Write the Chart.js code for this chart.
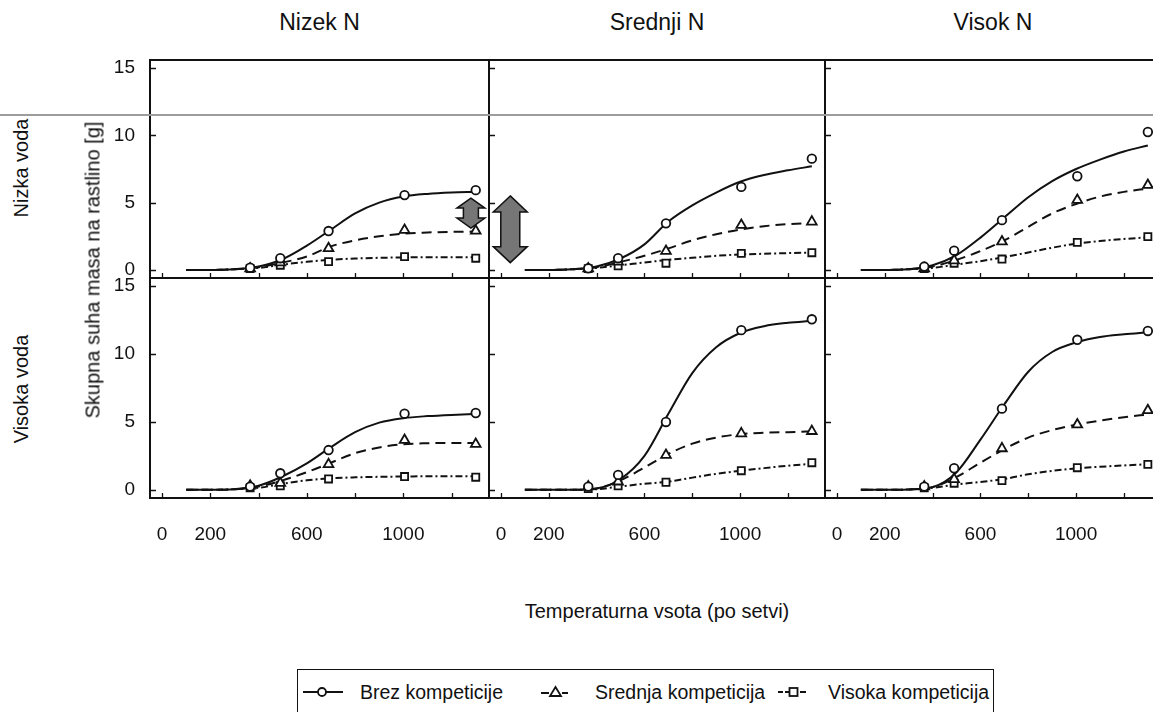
<!DOCTYPE html>
<html>
<head>
<meta charset="utf-8">
<script src="https://cdn.jsdelivr.net/npm/chart.js@4.4.1/dist/chart.umd.min.js"></script>
<style>
  body { margin: 0; background: #fff; }
  #wrap { position: relative; width: 1153px; height: 712px; overflow: hidden; background: #fff;
          font-family: "Liberation Sans", Arial, sans-serif; color: #111; }
  canvas { position: absolute; }
  .lbl { position: absolute; white-space: nowrap; font-size: 20px; }
  .title { font-size: 23px; transform: translateX(-50%); }
  .rot { transform: translate(-50%, -50%) rotate(-90deg); }
  #scanline { position: absolute; left: 0; top: 114px; width: 1153px; height: 2px; background: #9c9c9c; z-index: 5; }
  #legend { position: absolute; left: 297px; top: 669px; width: 695px; height: 60px; border: 1.5px solid #111; }
  #legend .item { position: absolute; top: 11px; font-size: 19.5px; }
  #legend svg { position: absolute; top: 15px; }
</style>
</head>
<body>
<div id="wrap">
  <div id="scanline"></div>
  <div id="legend"></div>
</div>
<script>
// x positions of the measured points and of the fitted curves (temperature sum)
const sampleX = [365, 490, 690, 1005, 1300];
const fitX = [100, 200, 300, 400, 500, 600, 700, 800, 900, 1000, 1100, 1200, 1300];

const colTitles = ['Nizek N', 'Srednji N', 'Visok N'];
const rowTitles = ['Nizka voda', 'Visoka voda'];
const seriesNames = ['Brez kompeticije', 'Srednja kompeticija', 'Visoka kompeticija'];
const xTicks = [0, 200, 400, 600, 800, 1000, 1200];
const xTickLabels = [0, 200, 600, 1000];
const yTicks = [0, 5, 10, 15];

// Nizek N / Nizka voda
const nl_brez = [0.17, 0.87, 2.89, 5.56, 5.93];
const nl_sred = [0.1, 0.55, 1.6, 2.96, 2.9];
const nl_vis = [0.1, 0.35, 0.62, 0.99, 0.87];
const nl_brezFit = [0, 0, 0.05, 0.25, 0.8, 1.8, 3.0, 4.2, 5.0, 5.45, 5.65, 5.75, 5.8];
const nl_sredFit = [0, 0, 0.05, 0.2, 0.55, 1.0, 1.75, 2.2, 2.5, 2.7, 2.78, 2.83, 2.85];
const nl_visFit = [0, 0, 0.05, 0.15, 0.4, 0.6, 0.75, 0.85, 0.9, 0.93, 0.94, 0.95, 0.95];

// Srednji N / Nizka voda
const sl_brez = [0.12, 0.87, 3.46, 6.17, 8.27];
const sl_sred = [0.1, 0.6, 1.4, 3.33, 3.58];
const sl_vis = [0.1, 0.3, 0.5, 1.23, 1.28];
const sl_brezFit = [0, 0, 0.05, 0.25, 0.85, 1.9, 3.6, 4.8, 5.75, 6.55, 7.05, 7.4, 7.7];
const sl_sredFit = [0, 0, 0.05, 0.2, 0.6, 1.05, 1.6, 2.2, 2.65, 3.0, 3.25, 3.4, 3.5];
const sl_visFit = [0, 0, 0.05, 0.15, 0.35, 0.55, 0.75, 0.9, 1.05, 1.15, 1.2, 1.25, 1.28];

// Visok N / Nizka voda
const vl_brez = [0.25, 1.43, 3.7, 6.96, 10.25];
const vl_sred = [0.1, 0.7, 2.1, 5.19, 6.3];
const vl_vis = [0.1, 0.5, 0.81, 2.05, 2.47];
const vl_brezFit = [0, 0, 0.05, 0.35, 1.1, 2.4, 3.9, 5.4, 6.6, 7.5, 8.2, 8.8, 9.25];
const vl_sredFit = [0, 0, 0.05, 0.25, 0.75, 1.4, 2.2, 3.2, 4.2, 4.9, 5.45, 5.8, 6.05];
const vl_visFit = [0, 0, 0.05, 0.15, 0.4, 0.65, 0.95, 1.3, 1.65, 1.95, 2.15, 2.3, 2.42];

// Nizek N / Visoka voda
const nh_brez = [0.24, 1.22, 2.93, 5.61, 5.66];
const nh_sred = [0.3, 0.5, 1.88, 3.66, 3.37];
const nh_vis = [0.15, 0.3, 0.8, 0.98, 0.93];
const nh_brezFit = [0, 0, 0.05, 0.3, 1.0, 1.95, 3.15, 4.25, 4.95, 5.28, 5.43, 5.52, 5.58];
const nh_sredFit = [0, 0, 0.05, 0.25, 0.7, 1.3, 2.0, 2.7, 3.12, 3.36, 3.43, 3.45, 3.45];
const nh_visFit = [0, 0, 0.05, 0.15, 0.45, 0.7, 0.85, 0.92, 0.96, 0.98, 1.0, 1.0, 1.0];

// Srednji N / Visoka voda
const sh_brez = [0.24, 1.1, 5.0, 11.76, 12.56];
const sh_sred = [0.24, 0.6, 2.56, 4.15, 4.32];
const sh_vis = [0.1, 0.3, 0.56, 1.41, 2.0];
const sh_brezFit = [0, 0, 0, 0.1, 0.8, 2.5, 5.6, 8.6, 10.5, 11.55, 12.05, 12.3, 12.45];
const sh_sredFit = [0, 0, 0, 0.1, 0.7, 1.65, 2.65, 3.4, 3.85, 4.1, 4.2, 4.25, 4.3];
const sh_visFit = [0, 0, 0, 0.05, 0.25, 0.45, 0.6, 0.9, 1.18, 1.4, 1.6, 1.78, 1.92];

// Visok N / Visoka voda
const vh_brez = [0.24, 1.59, 5.98, 11.05, 11.7];
const vh_sred = [0.24, 0.78, 3.05, 4.8, 5.85];
const vh_vis = [0.15, 0.49, 0.68, 1.63, 1.88];
const vh_brezFit = [0, 0, 0.03, 0.2, 1.3, 3.7, 6.3, 8.7, 10.15, 10.85, 11.25, 11.45, 11.6];
const vh_sredFit = [0, 0, 0.03, 0.2, 0.95, 2.0, 3.0, 3.85, 4.4, 4.8, 5.1, 5.35, 5.55];
const vh_visFit = [0, 0, 0.03, 0.15, 0.4, 0.58, 0.8, 1.15, 1.4, 1.58, 1.7, 1.8, 1.88];

// layout of the plot areas
const colLeft = [150, 489, 825];
const colWidth = [339, 336, 336];
const rowTop = [60, 278];
const rowHeight = [218, 220];
const padL = 70, padT = 12, padR = 12, padB = 50;

const markers = ['circle', 'triangle', 'rect'];
const markerSize = [4.3, 5.6, 5];
const dashes = [[], [10, 6], [7, 3, 2, 3]];

const panels = [
  { col: 0, row: 0, pts: [nl_brez, nl_sred, nl_vis], fit: [nl_brezFit, nl_sredFit, nl_visFit],
    arrow: { x: 1280, y0: 5.34, y1: 3.11, head: 28, shaft: 15, headH: 10 } },
  { col: 1, row: 0, pts: [sl_brez, sl_sred, sl_vis], fit: [sl_brezFit, sl_sredFit, sl_visFit],
    arrow: { x: 39, y0: 5.5, y1: 0.54, head: 34, shaft: 19, headH: 16 } },
  { col: 2, row: 0, pts: [vl_brez, vl_sred, vl_vis], fit: [vl_brezFit, vl_sredFit, vl_visFit] },
  { col: 0, row: 1, pts: [nh_brez, nh_sred, nh_vis], fit: [nh_brezFit, nh_sredFit, nh_visFit] },
  { col: 1, row: 1, pts: [sh_brez, sh_sred, sh_vis], fit: [sh_brezFit, sh_sredFit, sh_visFit] },
  { col: 2, row: 1, pts: [vh_brez, vh_sred, vh_vis], fit: [vh_brezFit, vh_sredFit, vh_visFit] }
];

const wrap = document.getElementById('wrap');
const FONT = '"Liberation Sans", Arial, sans-serif';

// frame, inward tick marks and the grey arrows
const panelDeco = {
  id: 'panelDeco',
  afterDatasetsDraw(chart) {
    const arrow = chart.options.plugins.panelDeco.arrow;
    if (!arrow) return;
    const { ctx, scales: { x, y } } = chart;
    const cx = x.getPixelForValue(arrow.x);
    const top = y.getPixelForValue(arrow.y0);
    const bot = y.getPixelForValue(arrow.y1);
    const hw = arrow.head / 2, sw = arrow.shaft / 2, hh = arrow.headH;
    ctx.save();
    ctx.beginPath();
    ctx.moveTo(cx, top);
    ctx.lineTo(cx + hw, top + hh);
    ctx.lineTo(cx + sw, top + hh);
    ctx.lineTo(cx + sw, bot - hh);
    ctx.lineTo(cx + hw, bot - hh);
    ctx.lineTo(cx, bot);
    ctx.lineTo(cx - hw, bot - hh);
    ctx.lineTo(cx - sw, bot - hh);
    ctx.lineTo(cx - sw, top + hh);
    ctx.lineTo(cx - hw, top + hh);
    ctx.closePath();
    ctx.fillStyle = '#767676';
    ctx.fill();
    ctx.strokeStyle = '#111';
    ctx.lineWidth = 1.5;
    ctx.stroke();
    ctx.restore();
  },
  afterDraw(chart) {
    const { ctx, chartArea: a, scales: { x, y } } = chart;
    ctx.save();
    ctx.strokeStyle = '#111';
    ctx.lineWidth = 1.3;
    ctx.beginPath();
    xTicks.forEach(v => {
      const px = Math.round(x.getPixelForValue(v)) + 0.5;
      ctx.moveTo(px, a.bottom);
      ctx.lineTo(px, a.bottom - 5);
    });
    yTicks.forEach(v => {
      const py = Math.round(y.getPixelForValue(v)) + 0.5;
      ctx.moveTo(a.left, py);
      ctx.lineTo(a.left + 6, py);
    });
    ctx.stroke();
    ctx.lineWidth = 2;
    ctx.strokeRect(a.left, a.top, a.right - a.left, a.bottom - a.top);
    ctx.restore();
  }
};

panels.forEach(p => {
  const w = colWidth[p.col] + padL + padR;
  const h = rowHeight[p.row] + padT + padB;
  const cv = document.createElement('canvas');
  cv.width = w; cv.height = h;
  cv.style.left = (colLeft[p.col] - padL) + 'px';
  cv.style.top = (rowTop[p.row] - padT) + 'px';
  wrap.appendChild(cv);

  const datasets = [];
  p.fit.forEach((vals, i) => {
    datasets.push({
      label: seriesNames[i] + ' fit',
      data: fitX.map((xv, k) => ({ x: xv, y: vals[k] })),
      showLine: true,
      borderColor: '#111',
      borderWidth: 2,
      borderDash: dashes[i],
      pointRadius: 0,
      cubicInterpolationMode: 'monotone',
      order: 2
    });
  });
  p.pts.forEach((vals, i) => {
    datasets.push({
      label: seriesNames[i],
      data: sampleX.map((xv, k) => ({ x: xv, y: vals[k] })),
      showLine: false,
      pointStyle: markers[i],
      pointRadius: markerSize[i],
      pointBorderWidth: 1.8,
      pointBorderColor: '#111',
      pointBackgroundColor: '#fff',
      order: 1
    });
  });

  new Chart(cv, {
    type: 'scatter',
    data: { datasets },
    options: {
      responsive: false,
      animation: false,
      devicePixelRatio: 1,
      layout: { padding: { left: 0, top: padT, right: padR, bottom: 0 } },
      plugins: { legend: { display: false }, tooltip: { enabled: false }, panelDeco: { arrow: p.arrow } },
      scales: {
        x: {
          type: 'linear', min: -50, max: 1355,
          grid: { display: false, drawTicks: false },
          border: { display: false },
          afterBuildTicks: s => { s.ticks = xTicks.map(v => ({ value: v })); },
          afterFit: s => { s.height = padB; s.paddingLeft = 0; s.paddingRight = 0; },
          ticks: {
            display: p.row === 1,
            autoSkip: false, maxRotation: 0, padding: 25,
            color: '#111', font: { family: FONT, size: 19 },
            callback: v => xTickLabels.includes(v) ? String(v) : ''
          }
        },
        y: {
          type: 'linear', min: -0.6, max: 15.6,
          grid: { display: false, drawTicks: false },
          border: { display: false },
          afterBuildTicks: s => { s.ticks = yTicks.map(v => ({ value: v })); },
          afterFit: s => { s.width = padL; s.paddingTop = 0; s.paddingBottom = 0; },
          ticks: {
            display: p.col === 0,
            padding: 15,
            color: '#111', font: { family: FONT, size: 19 },
            callback: v => String(v)
          }
        }
      }
    },
    plugins: [panelDeco]
  });
});

// titles and axis labels
function addLabel(text, cls, css) {
  const d = document.createElement('div');
  d.className = 'lbl ' + cls;
  d.textContent = text;
  Object.assign(d.style, css);
  wrap.appendChild(d);
}
colTitles.forEach((t, c) => {
  addLabel(t, 'title', { left: (colLeft[c] + colWidth[c] / 2) + 'px', top: '9px' });
});
addLabel(rowTitles[0], 'rot', { left: '21px', top: '168px' });
addLabel(rowTitles[1], 'rot', { left: '21px', top: '389px' });
addLabel('Skupna suha masa na rastlino [g]', 'rot', { left: '93px', top: '270px' });
addLabel('Temperaturna vsota (po setvi)', '', { left: '657px', top: '600px', transform: 'translateX(-50%)' });

// legend
const legend = document.getElementById('legend');
const legendSym = [
  '<svg width="40" height="14"><line x1="0" y1="7" x2="40" y2="7" stroke="#111" stroke-width="2"/>' +
    '<circle cx="19" cy="7" r="4" fill="#fff" stroke="#111" stroke-width="1.8"/></svg>',
  '<svg width="30" height="14"><line x1="0" y1="8" x2="8" y2="8" stroke="#111" stroke-width="2"/>' +
    '<line x1="21" y1="8" x2="27" y2="8" stroke="#111" stroke-width="2"/>' +
    '<polygon points="14.5,2 20,11 9,11" fill="#fff" stroke="#111" stroke-width="1.8"/></svg>',
  '<svg width="32" height="14"><line x1="0" y1="7" x2="5" y2="7" stroke="#111" stroke-width="2"/>' +
    '<line x1="7" y1="7" x2="11" y2="7" stroke="#111" stroke-width="2"/>' +
    '<rect x="11.5" y="3" width="8" height="8" fill="#fff" stroke="#111" stroke-width="1.8"/>' +
    '<line x1="22" y1="7" x2="28" y2="7" stroke="#111" stroke-width="2"/></svg>'
];
const symLeft = [5, 243, 480];
const textLeft = [62, 297, 530];
seriesNames.forEach((name, i) => {
  const s = document.createElement('div');
  s.innerHTML = legendSym[i];
  s.firstChild.style.left = symLeft[i] + 'px';
  legend.appendChild(s.firstChild);
  const t = document.createElement('div');
  t.className = 'item';
  t.style.left = textLeft[i] + 'px';
  t.textContent = name;
  legend.appendChild(t);
});
</script>
</body>
</html>
